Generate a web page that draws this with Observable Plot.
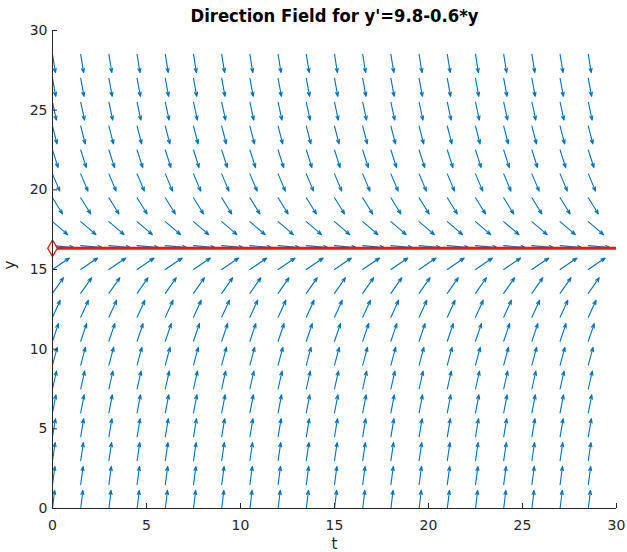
<!DOCTYPE html>
<html>
<head>
<meta charset="utf-8">
<script src="https://cdn.jsdelivr.net/npm/d3@7"></script>
<script src="https://cdn.jsdelivr.net/npm/@observablehq/plot@0.6"></script>
<style>
  html, body { margin: 0; padding: 0; background: #fff; }
  #chart { width: 627px; height: 552px; }
</style>
</head>
<body>
<div id="chart"></div>
<script>
// Equation y' = a - b*y (from the title)
const titleText = "Direction Field for y'=9.8-0.6*y";
const coefA = 9.8;
const coefB = 0.6;

// Grid sample points
const tValues = [0, 1.5, 3, 4.5, 6, 7.5, 9, 10.5, 12, 13.5, 15, 16.5, 18, 19.5, 21, 22.5, 24, 25.5, 27, 28.5];
const yValues = [0, 1.5, 3, 4.5, 6, 7.5, 9, 10.5, 12, 13.5, 15, 16.5, 18, 19.5, 21, 22.5, 24, 25.5, 27, 28.5];

// Axis ticks
const xTicks = [0, 5, 10, 15, 20, 25, 30];
const yTicks = [0, 5, 10, 15, 20, 25, 30];

const arrowScale = 1.15; // arrow length in data units (normalized direction)

const field = [];
for (const t of tValues) {
  for (const y of yValues) {
    const f = coefA - coefB * y;
    const L = Math.sqrt(1 + f * f);
    field.push({t, y, t2: t + arrowScale / L, y2: y + arrowScale * f / L});
  }
}
const equilibrium = coefA / coefB;

const ink = "#262626";
const chart = Plot.plot({
  width: 627,
  height: 552,
  marginLeft: 52,
  marginRight: 11,
  marginTop: 30,
  marginBottom: 44,
  style: {fontFamily: "DejaVu Sans", fontSize: "13px", color: ink, background: "#fff"},
  x: {domain: [0, 30]},
  y: {domain: [0, 30]},
  marks: [
    Plot.arrow(field, {
      x1: "t", y1: "y", x2: "t2", y2: "y2",
      stroke: "#0072BD", strokeWidth: 1.1, headLength: 6, headAngle: 40
    }),
    Plot.ruleY([equilibrium], {stroke: "#ff1010", strokeWidth: 3}),
    Plot.dot([{t: 0, y: equilibrium}], {x: "t", y: "y", symbol: "diamond", r: 5, stroke: "#ff1010", fill: "white", strokeWidth: 1.3}),
    Plot.ruleX([0], {stroke: ink, strokeWidth: 1}),
    Plot.ruleY([0], {stroke: ink, strokeWidth: 1}),
    Plot.axisX({ticks: xTicks, tickSize: -5, tickPadding: 17, stroke: ink, fill: ink, fontSize: 14,
      label: null}),
    Plot.axisY({ticks: yTicks, tickSize: -5, tickPadding: 10, stroke: ink, fill: ink, fontSize: 14,
      label: null}),
    Plot.text(["t"], {frameAnchor: "bottom", dy: 40, fontSize: 15, fill: ink}),
    Plot.text(["y"], {frameAnchor: "left", dx: -42, rotate: -90, fontSize: 15, fill: ink}),
    Plot.text([titleText], {frameAnchor: "top", lineAnchor: "bottom", dy: -9, fontSize: 17, fontWeight: "bold", fill: "#000", className: "chart-title"})
  ]
});
document.getElementById("chart").append(chart);
// stretch the title to the reference's width
d3.select(chart).selectAll("g.chart-title text, .chart-title text")
  .attr("textLength", 288).attr("lengthAdjust", "spacingAndGlyphs");
</script>
</body>
</html>
